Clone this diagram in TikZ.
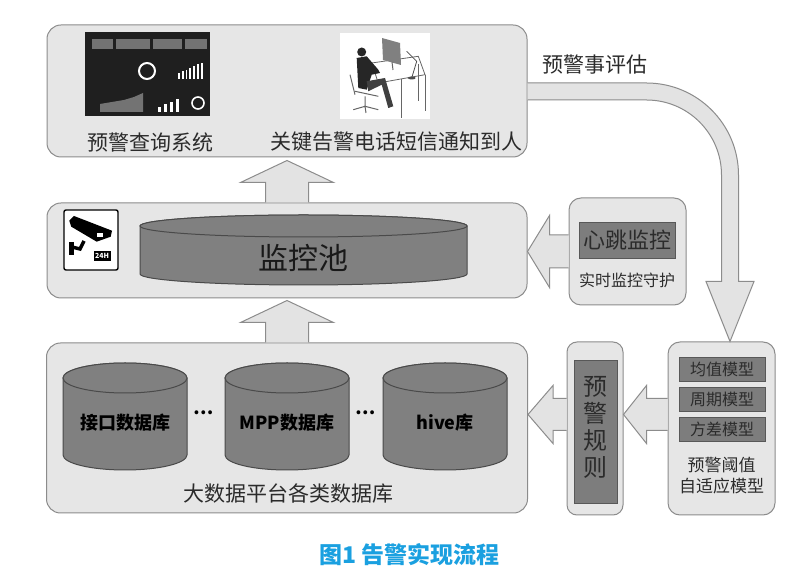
\documentclass[tikz,border=0pt]{standalone}
\usepackage{fontspec}
\setmainfont{Noto Sans CJK SC}
\usetikzlibrary{positioning,calc}
\definecolor{panelfill}{HTML}{E6E6E6}
\definecolor{paneldraw}{HTML}{8C8C8C}
\definecolor{drumfill}{HTML}{808080}
\definecolor{drumdraw}{HTML}{4A4A4A}
\definecolor{bandfill}{HTML}{7D7D7D}
\definecolor{arrowfill}{HTML}{E3E3E3}
\definecolor{capblue}{HTML}{1AA0E0}
\definecolor{txtgray}{HTML}{2B2B2B}
\tikzset{
  panel/.style={draw=paneldraw, fill=panelfill, line width=1pt, rounded corners=14pt, inner sep=0pt},
  band/.style={fill=bandfill, draw=bandfill!70!black, line width=0.6pt},
  drumbody/.style={fill=drumfill, draw=drumdraw, line width=1pt},
  blockarrow/.style={fill=arrowfill, draw=paneldraw, line width=1pt, line join=miter},
  lbl/.style={text=txtgray, font=\fontsize{21}{25}\selectfont, inner sep=0pt},
  smalllbl/.style={text=txtgray, font=\fontsize{16}{19}\selectfont, inner sep=0pt},
  dblbl/.style={text=black, font=\bfseries\fontsize{18}{22}\selectfont, inner sep=0pt},
  caption/.style={text=capblue, font=\bfseries\fontsize{23}{27}\selectfont, inner sep=0pt},
}
% cylinder: centre x, top y, bottom y, x radius, y radius
\newcommand{\drum}[5]{%
  \filldraw[drumbody] (#1-#4,#2) -- (#1-#4,#3)
    arc[start angle=180, end angle=360, x radius=#4, y radius=#5] -- (#1+#4,#2)
    arc[start angle=0, end angle=180, x radius=#4, y radius=#5] -- cycle;
  \draw[drumbody] (#1,#2) ellipse[x radius=#4, y radius=#5];}
% fat arrows: base, tip (, shaft half, head half, head length)
\newcommand{\upblock}[2]{%
  \draw[blockarrow] let \p1=(#1), \p2=(#2) in
    (\x1-21.5,\y1) -- (\x1-21.5,\y2-22) -- (\x1-46.5,\y2-22) -- (\x1,\y2)
    -- (\x1+46.5,\y2-22) -- (\x1+21.5,\y2-22) -- (\x1+21.5,\y1);}
\newcommand{\leftblock}[5]{%
  \draw[blockarrow] let \p1=(#1), \p2=(#2) in
    (\x1,\y1+#3) -- (\x2+#5,\y1+#3) -- (\x2+#5,\y1+#4) -- (\x2,\y1)
    -- (\x2+#5,\y1-#4) -- (\x2+#5,\y1-#3) -- (\x1,\y1-#3);}

\begin{document}
\begin{tikzpicture}[x=1pt, y=1pt]
  \fill[white] (0,0) rectangle (800,586);
  \useasboundingbox (0,0) rectangle (800,586);

  % three layers
  \node[panel, minimum width=480, minimum height=132] (alarm) at (287,495) {};
  \node[panel, minimum width=480, minimum height=95] (monitor) at (287,335.5) {};
  \node[panel, minimum width=481, minimum height=170] (store) at (287,158) {};

  % top layer: screenshot and operator
  \node[fill=black!88, minimum width=125, minimum height=84, inner sep=0pt] (dash) at (147.5,512) {};
  \foreach \a/\b in {92/113, 116/150, 153/182, 185/207}
    \fill[black!55] (\a,537) rectangle (\b,547);
  \draw[white!75, line width=2pt] (147,515) circle[radius=8];
  \foreach \i in {0,...,6}
    \fill[white!70] (178+\i*3.8,507) rectangle ++(1.8,6+\i*1.7);
  \fill[black!55] (100,474) -- (100,482) -- (112,484) -- (124,486) -- (134,489) -- (143,493) -- (143,474) -- cycle;
  \foreach \i in {0,...,3}
    \fill[white!65] (158+\i*6,474) rectangle ++(3,5+\i*2.5);
  \draw[white!70, line width=1.6pt] (198,483) circle[radius=6];

  \node[fill=white, minimum width=90, minimum height=86, inner sep=0pt] (desk) at (385,510) {};
  \draw[black!60, line width=0.8pt, fill=white] (371.7,523) -- (418.3,529.7) -- (425,511.3) -- (378.3,503) -- cycle;
  \draw[black!60, line width=0.8pt] (425,511.3) -- (425,475) (401.7,507) -- (401.7,468) (418.3,522) -- (418.3,485);
  \fill[black!50] (382,548) -- (400,543) -- (401,521) -- (383,526) -- cycle;
  \draw[black!60, line width=1pt] (392,524) -- (393,516);
  \draw[black!70, line width=0.8pt] (411.7,508) -- (416.7,524.7) -- (406.7,534.7);
  \fill[black!70] (411.7,508) ellipse[x radius=4, y radius=1.5];
  \fill[black!85] (361.7,534) circle[radius=4.5];
  \fill[black!85] (356.7,528) -- (366.7,529.7) -- (378.3,516.3) -- (380,513) -- (371.7,511.3) -- (366.7,496.3) -- (358.3,498) -- cycle;
  \fill[black!75] (366.7,504.7) -- (385,508) -- (393.3,479.7) -- (388.3,478) -- (381.7,501.3) -- (368.3,494.7) -- cycle;
  \draw[black!60, line width=1pt] (350,511.3) -- (355,491.3) (355,494.7) -- (378.3,489.7) (365,489.7) -- (365,479.7)
    (353.3,476.3) -- (365,479.7) -- (378.3,476.3) (365,479.7) -- (366,473);

  \node[lbl] (query) at (150,444) {预警查询系统};
  \node[lbl] (notify) at (396.5,444) {关键告警电话短信通知到人};

  % middle layer: camera sign and pool
  \node[draw=black, line width=1.4pt, fill=white, rounded corners=2pt, minimum width=54, minimum height=60, inner sep=0pt] (cam) at (91,346) {};
  \fill[black] (69.3,365.3) -- (74,370) -- (112,355.3) -- (110.7,349.3) -- (96.7,344.3) -- (71.3,359.3) -- cycle;
  \fill[white] (96.7,349.3) rectangle (103.3,353.3);
  \draw[black, line width=3.5pt] (84,345) -- (80,337) -- (72,339);
  \fill[black] (69,344) rectangle (73.5,331);
  \node[fill=black, text=white, font=\bfseries\fontsize{7}{7}\selectfont, minimum width=17, minimum height=10, inner sep=0pt] (h24) at (102,330.3) {24H};

  \drum{303.5}{360}{312}{163.5}{11}
  \node[lbl, text=black!90, font=\fontsize{30}{34}\selectfont] (pool) at (303.5,328) {监控池};

  % bottom layer: databases
  \drum{125}{208}{131}{62}{15}
  \drum{287}{208}{131}{62}{15}
  \drum{445}{208}{131}{62}{15}
  \node[dblbl] (db1) at (125,163) {接口数据库};
  \node[dblbl] (db2) at (287,163) {MPP数据库};
  \node[dblbl] (db3) at (445,163) {hive库};
  \node[dblbl] (dots1) at (204,173) {…};
  \node[dblbl] (dots2) at (366,173) {…};
  \node[lbl] (platform) at (288,93) {大数据平台各类数据库};

  % heartbeat
  \node[panel, rounded corners=12pt, minimum width=117, minimum height=107] (heart) at (627.5,334.5) {};
  \node[band, lbl, font=\fontsize{22}{26}\selectfont, minimum width=96, minimum height=36] (beat) at (627,346) {心跳监控};
  \node[smalllbl] (guard) at (627,306) {实时监控守护};

  % rules and thresholds
  \node[panel, rounded corners=10pt, minimum width=56, minimum height=173] (rules) at (595,157.5) {};
  \node[band, minimum width=43, minimum height=143] (rulesband) at (595.5,154.5) {};
  \node[lbl, font=\fontsize{24}{27}\selectfont, align=center] (rulestxt) at (595.5,159) {预\\警\\规\\则};

  \node[panel, rounded corners=12pt, minimum width=107, minimum height=173] (thresh) at (721.5,157.5) {};
  \node[band, smalllbl, minimum width=86, minimum height=24] (avg) at (722,217) {均值模型};
  \node[band, smalllbl, minimum width=86, minimum height=24] (cycle) at (722,187) {周期模型};
  \node[band, smalllbl, minimum width=86, minimum height=24] (var) at (722,157) {方差模型};
  \node[smalllbl, font=\fontsize{17}{21}\selectfont, align=center] (adapt) at (721.5,110) {预警阈值\\自适应模型};

  % fat arrows
  \upblock{monitor.north}{$(alarm.south)+(0,-3)$}
  \upblock{store.north}{$(monitor.south)+(0,-2)$}
  \leftblock{heart.west}{monitor.east}{16.5}{36}{22}
  \leftblock{$(thresh.west)+(0,14)$}{rules.east}{16}{29}{23}
  \leftblock{$(rules.west)+(0,14)$}{store.east}{16}{29}{25}

  \draw[blockarrow] let \p1=($(alarm.east)+(0,8)$), \p2=($(thresh.north)+(8.5,0)$) in
    (\x1,\y1) -- (\x2+8.5-92,\y1) arc[start angle=90, end angle=0, radius=92]
    -- (\x2+8.5,\y2+60) -- (\x2+24,\y2+60) -- (\x2,\y2) -- (\x2-24,\y2+60) -- (\x2-8.5,\y2+60)
    -- (\x2-8.5,\y1-92) arc[start angle=0, end angle=90, radius=75] -- (\x1,\y1-17);
  \node[lbl] (assess) at (595,521) {预警事评估};

  \node[caption] (cap) at (409.5,31) {图1 告警实现流程};
\end{tikzpicture}
\end{document}
